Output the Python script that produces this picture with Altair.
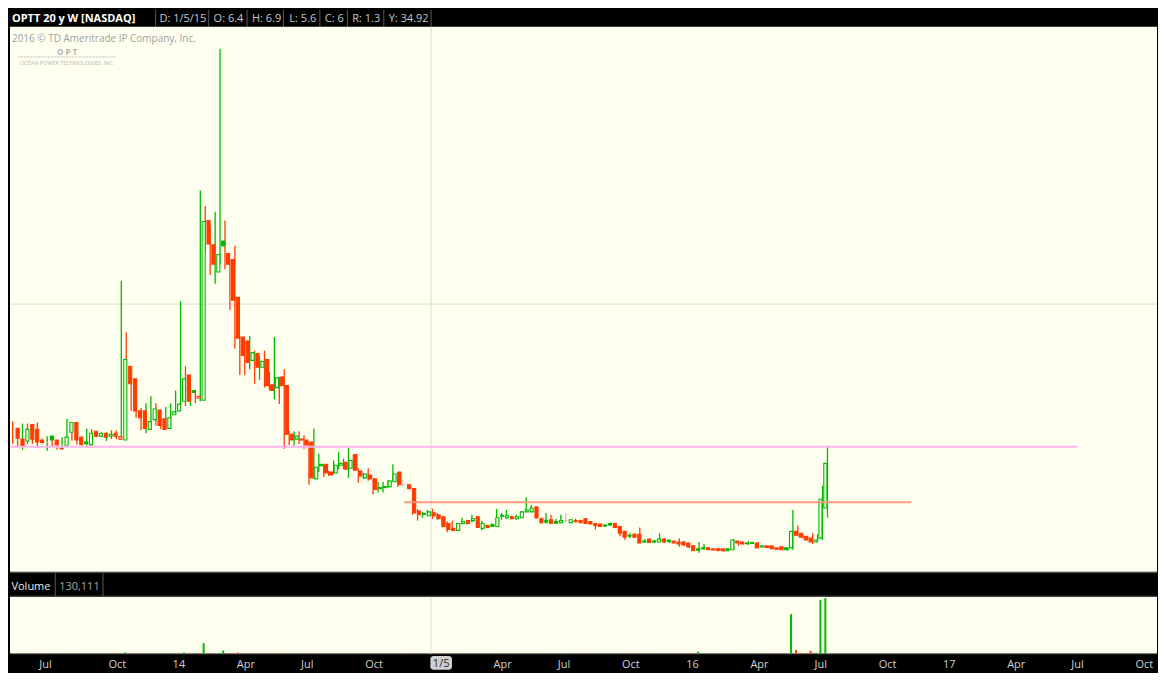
import altair as alt
import pandas as pd

# ---------------- data ----------------
first_week = "2013-05-20"   # weekly candles, Monday of each week

opens = [
    17.25, 15.875, 15.625, 17.75, 17.125, 15.75, 15.44, 16.25, 15.75, 14.69,
    15.0, 16.75, 18.0, 16.125, 15.5, 15.125, 16.875, 16.25, 16.625, 16.25,
    16.625, 15.875, 15.75, 25.25, 23.625, 19.5, 19.5, 17.125, 18.375, 19.625,
    18.5, 17.25, 19.0, 19.5, 20.75, 24.125, 22.125, 21.125, 20.875, 44.0,
    40.875, 37.375, 41.375, 39.75, 39.0, 34.125, 29.0, 28.5, 26.0, 26.875,
    25.125, 26.125, 22.875, 22.5, 23.875, 22.75, 16.5, 15.875, 15.875, 15.75,
    15.5, 10.75, 12.625, 12.625, 11.625, 11.5, 12.5, 12.875, 12.125, 13.875,
    11.75, 10.875, 11.25, 10.75, 9.625, 9.75, 9.75, 10.375, 11.625, 10.0,
    10.0, 9.5, 6.625, 6.31, 6.0, 6.4, 6.125, 5.875, 5.0, 4.375,
    4.125, 5.0, 5.375, 5.375, 5.875, 4.375, 4.75, 4.875, 4.625, 6.06,
    5.75, 5.875, 5.625, 5.75, 6.5, 6.5, 7.125, 5.625, 5.375, 5.5,
    5.25, 5.125, 5.375, 5.125, 5.375, 5.375, 5.625, 5.25, 5.0, 4.94,
    4.81, 5.0, 5.0, 4.625, 4.0, 3.5, 3.625, 3.625, 2.75, 3.0,
    2.75, 2.625, 3.0, 2.875, 2.75, 2.625, 2.625, 2.5, 2.125, 1.75,
    1.875, 1.875, 1.75, 1.75, 1.75, 1.75, 1.625, 2.75, 2.625, 2.5,
    2.54, 2.5, 2.125, 2.125, 2.125, 1.875, 2.0, 1.875, 1.875, 4.0,
    3.75, 3.375, 3.125, 2.625, 3.125, 7.0,
]
highs = [
    18.125, 16.375, 17.875, 17.875, 17.25, 18.0, 16.125, 16.25, 15.875, 15.0,
    16.125, 18.5, 18.0, 16.5, 15.75, 17.25, 17.125, 16.875, 16.75, 16.75,
    17.0, 17.0, 36.25, 29.625, 23.875, 21.625, 19.875, 20.5, 21.375, 20.5,
    18.5, 20.0, 20.5, 22.125, 33.625, 25.25, 23.0, 22.0, 47.875, 45.875,
    43.375, 45.125, 66.125, 44.0, 39.0, 40.75, 29.125, 28.5, 29.125, 27.25,
    26.5, 27.25, 24.5, 29.0, 23.875, 24.875, 16.875, 16.875, 16.875, 16.375,
    15.5, 17.25, 14.0, 12.625, 11.75, 13.125, 14.25, 13.375, 14.75, 13.875,
    12.125, 11.5, 12.125, 10.75, 10.375, 10.375, 10.5, 12.625, 11.625, 10.625,
    10.125, 9.5, 6.875, 6.5, 6.75, 6.9, 6.375, 5.875, 5.25, 5.375,
    5.0, 5.75, 5.5, 6.125, 6.0, 5.375, 4.875, 5.0, 6.875, 6.375,
    6.75, 6.0, 6.125, 6.625, 8.375, 7.375, 7.25, 5.75, 6.375, 6.125,
    5.625, 6.125, 6.375, 5.5, 5.625, 5.5, 5.625, 5.25, 5.0, 5.0,
    4.875, 5.125, 5.0, 4.625, 4.0, 3.75, 3.75, 4.5, 3.0, 3.0,
    2.875, 3.75, 3.125, 2.875, 2.75, 3.125, 2.75, 2.5, 2.25, 2.625,
    2.375, 1.875, 1.75, 1.875, 1.75, 1.75, 3.0, 2.75, 2.625, 2.75,
    2.66, 2.625, 2.125, 2.125, 2.125, 1.875, 2.0, 1.875, 6.75, 4.75,
    3.75, 3.375, 3.75, 3.625, 9.875, 15.0,
]
lows = [
    15.25, 14.875, 14.5, 15.25, 15.25, 14.75, 15.125, 14.375, 14.875, 14.5,
    14.5, 16.0, 15.69, 15.19, 15.0, 15.0, 16.125, 16.125, 16.125, 15.625,
    15.875, 15.875, 15.75, 20.875, 19.5, 18.625, 17.0, 16.625, 17.25, 17.625,
    17.125, 17.25, 17.625, 19.25, 20.375, 20.125, 20.125, 20.5, 20.75, 40.0,
    37.0, 35.875, 38.375, 37.75, 32.5, 27.5, 24.125, 24.125, 24.875, 23.0,
    23.5, 22.5, 22.125, 21.0, 20.375, 14.625, 15.125, 15.0, 15.25, 14.625,
    10.0, 10.75, 11.625, 11.0, 11.125, 11.375, 12.0, 12.0, 10.875, 11.875,
    10.25, 10.75, 10.5, 8.75, 9.0, 9.0, 9.625, 10.375, 9.75, 9.75,
    9.5, 6.125, 5.375, 5.75, 6.0, 5.6, 5.5, 4.5, 3.875, 4.0,
    4.125, 4.875, 4.875, 5.125, 4.5, 4.125, 4.5, 4.625, 4.625, 5.5,
    5.625, 5.625, 5.5, 5.75, 6.5, 6.5, 5.625, 5.0, 5.0, 5.0,
    5.0, 5.125, 5.125, 5.125, 5.125, 5.125, 5.0, 4.875, 4.25, 4.56,
    4.56, 4.69, 4.5, 3.375, 2.875, 3.125, 3.19, 2.5, 2.56, 2.5,
    2.5, 2.625, 2.5, 2.5, 2.44, 2.0, 2.125, 1.875, 1.5, 1.25,
    1.625, 1.625, 1.56, 1.44, 1.375, 1.5, 1.625, 2.125, 2.31, 2.25,
    2.4, 1.875, 1.94, 1.875, 1.75, 1.625, 1.56, 1.54, 1.625, 3.375,
    3.125, 2.875, 2.375, 2.625, 2.875, 5.75,
]
closes = [
    16.0, 15.0, 17.125, 15.875, 15.5, 15.44, 15.44, 15.75, 15.125, 14.625,
    16.125, 18.0, 15.75, 15.19, 15.28, 16.625, 16.25, 16.625, 16.125, 16.5,
    16.25, 16.19, 26.125, 23.0, 19.5, 18.625, 17.25, 18.125, 19.75, 17.625,
    17.125, 18.625, 19.375, 20.375, 23.625, 20.75, 21.875, 21.375, 43.875, 41.0,
    38.375, 39.625, 40.75, 38.375, 33.75, 28.875, 26.625, 25.75, 27.0, 25.125,
    25.875, 22.75, 22.125, 23.75, 22.75, 16.5, 15.75, 16.25, 15.75, 15.125,
    10.875, 12.25, 12.44, 11.5, 11.25, 12.5, 12.75, 12.0, 13.125, 11.875,
    11.125, 11.375, 10.75, 9.375, 9.5, 9.625, 10.5, 11.375, 10.0, 10.0,
    9.5, 6.375, 6.125, 6.19, 6.5, 6.0, 5.625, 4.625, 4.25, 4.125,
    5.0, 5.25, 5.0, 5.625, 4.5, 5.0, 4.5, 4.625, 5.75, 5.94,
    6.0, 5.625, 5.875, 6.5, 6.75, 7.0, 5.75, 5.125, 5.19, 5.0,
    5.06, 5.375, 5.375, 5.5, 5.25, 5.125, 5.0, 4.94, 4.75, 4.625,
    4.69, 4.81, 4.5, 3.75, 3.25, 3.375, 3.25, 2.5, 2.625, 2.56,
    2.625, 3.0, 2.625, 2.69, 2.5, 2.375, 2.25, 2.0, 1.5, 1.56,
    1.75, 1.625, 1.59, 1.55, 1.5, 1.52, 2.875, 2.5, 2.375, 2.4,
    2.44, 1.875, 2.0, 1.94, 1.75, 1.69, 1.625, 1.65, 4.0, 3.5,
    3.25, 2.875, 2.625, 2.875, 8.125, 12.75,
]
volumes_k = [   # weekly volume, thousands of shares
    180, 150, 210, 170, 160, 140, 120, 200, 150, 130,
    170, 260, 220, 160, 120, 190, 140, 110, 130, 120,
    150, 140, 1100, 420, 300, 250, 230, 210, 240, 260,
    220, 180, 190, 240, 1000, 380, 300, 260, 8500, 400,
    350, 500, 2600, 450, 400, 900, 380, 300, 260, 280,
    240, 260, 200, 300, 220, 400, 250, 200, 180, 220,
    450, 300, 220, 200, 170, 190, 210, 160, 240, 230,
    180, 150, 160, 210, 140, 130, 150, 200, 170, 110,
    130, 260, 200, 150, 140, 130.111, 160, 220, 190, 150,
    170, 140, 120, 130, 200, 160, 110, 120, 230, 150,
    140, 120, 130, 170, 260, 210, 240, 150, 130, 120,
    110, 130, 100, 120, 110, 100, 120, 110, 150, 120,
    100, 110, 120, 200, 220, 140, 130, 250, 150, 120,
    110, 160, 130, 110, 120, 170, 140, 150, 280, 1600,
    240, 130, 110, 100, 120, 110, 420, 200, 150, 120,
    110, 180, 130, 120, 150, 130, 140, 120, 32000, 3100,
    600, 500, 2300, 700, 43500, 45000,
]

tick_dates = ["2013-07-01", "2013-10-07", "2014-01-06", "2014-04-07", "2014-07-07",
              "2014-10-06", "2015-01-05", "2015-04-06", "2015-07-06", "2015-10-05",
              "2016-01-04", "2016-04-04", "2016-07-04", "2016-10-03", "2017-01-02",
              "2017-04-03", "2017-07-03", "2017-10-02"]
tick_labels = ["Jul", "Oct", "14", "Apr", "Jul", "Oct", "1/5", "Apr", "Jul", "Oct",
               "16", "Apr", "Jul", "Oct", "17", "Apr", "Jul", "Oct"]
highlight_label = "1/5"

header_title = "OPTT 20 y W [NASDAQ]"
header_fields = ["D: 1/5/15", "O: 6.4", "H: 6.9", "L: 5.6", "C: 6", "R: 1.3", "Y: 34.92"]
volume_header = ["Volume", "130,111"]
watermark = "2016 \u00a9 TD Ameritrade IP Company, Inc."
logo_text = ["O P T", "OCEAN POWER TECHNOLOGIES, INC."]

level_prices = [14.875, 7.75]
level_starts = ["2013-05-16", "2014-11-26"]
level_ends = ["2017-07-07", "2016-11-14"]
level_kind = ["resistance", "support"]
crosshair_date = "2015-01-03"
crosshair_price = 33.25

# ---------------- layout / style ----------------
W, H = 1150, 664
REF_W, REF_H = 1166.0, 682.0
def sx(v): return v * W / REF_W
def sy(v): return v * H / REF_H

FONT = "Open Sans"
CREAM = "#fffff0"
GREEN = "#00b900"
RED = "#ff3c00"
GRAY = "#c8c8c8"
PINK = "#ffb0ee"
SALMON = "#ff9478"
SEP = "#5a5a5a"
CROSS = "#dcdcdc"

X_DOMAIN = [-3.765, 1622.14]          # days since first_week
PRICE_DOMAIN = [-1.125, 68.875]
VOL_DOMAIN = [0, 46000]

base = pd.Timestamp(first_week)
def dnum(s):
    return (pd.Timestamp(s) - base).total_seconds() / 86400.0

dates = pd.date_range(first_week, periods=len(closes), freq="7D")
prev = [opens[0]] + closes[:-1]
status = ["up" if c > p else ("down" if c < p else "flat") for c, p in zip(closes, prev)]
fillkey = ["hollow" if c > o else s for c, o, s in zip(closes, opens, status)]
df = pd.DataFrame({
    "date": dates.strftime("%Y-%m-%d"),
    "day": [(d - base).days for d in dates],
    "open": opens, "high": highs, "low": lows, "close": closes,
    "volume": volumes_k, "status": status, "fillkey": fillkey,
})

xs = alt.Scale(domain=X_DOMAIN, nice=False, zero=False)
ps = alt.Scale(domain=PRICE_DOMAIN, range=[sy(578), sy(18)], nice=False, zero=False)
vs = alt.Scale(domain=VOL_DOMAIN, range=[sy(663), sy(604.5)], nice=False)
status_scale = alt.Scale(domain=["up", "down", "flat"], range=[GREEN, RED, GRAY])
fill_scale = alt.Scale(domain=["up", "down", "flat", "hollow"], range=[GREEN, RED, GRAY, CREAM])

one = pd.DataFrame({"a": [0]})

def band(x0, x1, y0, y1, color):
    return alt.Chart(one).mark_rect(color=color).encode(
        x=alt.value(sx(x0)), x2=alt.value(sx(x1)), y=alt.value(sy(y0)), y2=alt.value(sy(y1)))

def hline(x0, x1, y, color, w=1):
    return alt.Chart(one).mark_rule(color=color, strokeWidth=w).encode(
        x=alt.value(sx(x0)), x2=alt.value(sx(x1)), y=alt.value(sy(y)))

def vline(x, y0, y1, color, w=1):
    return alt.Chart(one).mark_rule(color=color, strokeWidth=w).encode(
        x=alt.value(sx(x)), y=alt.value(sy(y0)), y2=alt.value(sy(y1)))

def label(text, x, y, color, size=11, weight="normal", align="left"):
    return alt.Chart(one).mark_text(
        font=FONT, fontSize=size, fontWeight=weight, color=color, align=align,
        baseline="alphabetic").encode(x=alt.value(sx(x)), y=alt.value(sy(y)), text=alt.value(text))

layers = []
# panels
layers.append(band(0, REF_W, 17.5, 578.5, CREAM))
layers.append(band(0, REF_W, 604.5, 663, CREAM))
layers.append(hline(0, REF_W, 579.5, SEP))
layers.append(hline(0, REF_W, 603.8, SEP))
layers.append(hline(0, REF_W, 663.3, "#3a3a3a"))

# header
header_x = [152, 207, 246, 284, 320, 348, 385]
header_sep = [148, 202, 241, 278, 315, 343, 380, 428]
layers.append(label(header_title, 2, 12, "#ffffff", weight="bold"))
for t, x in zip(header_fields, header_x):
    layers.append(label(t, x, 12, "#c8c8c8"))
for x in header_sep:
    layers.append(vline(x, 0, 17.3, SEP))

# volume header
layers.append(label(volume_header[0], 1.5, 597.5, "#e8e8e8"))
layers.append(label(volume_header[1], 50, 597.5, "#a8a8a8"))
for x in [46, 94.5]:
    layers.append(vline(x, 579.5, 603.8, SEP))

# watermark
layers.append(label(watermark, 2, 33.5, "#a0a0a0", size=10))
layers.append(label(logo_text[0], 58, 46, "#b0b0b0", size=8, weight="bold", align="center"))
layers.append(alt.Chart(one).mark_rule(color="#c0c0c0", strokeWidth=1, strokeDash=[2, 1]).encode(
    x=alt.value(sx(8)), x2=alt.value(sx(108)), y=alt.value(sy(48.5))))
layers.append(label(logo_text[1], 58, 57, "#b8b8b8", size=5.5, align="center"))

# crosshair
cross = pd.DataFrame({"day": [dnum(crosshair_date)], "price": [crosshair_price]})
layers.append(alt.Chart(cross).mark_rule(color=CROSS, strokeWidth=1).encode(
    x=alt.X("day:Q", scale=xs, axis=None), y=alt.value(sy(17.5)), y2=alt.value(sy(578.5))))
layers.append(alt.Chart(cross).mark_rule(color=CROSS, strokeWidth=1).encode(
    x=alt.X("day:Q", scale=xs, axis=None), y=alt.value(sy(604.5)), y2=alt.value(sy(663))))
layers.append(alt.Chart(cross).mark_rule(color=CROSS, strokeWidth=1).encode(
    x=alt.value(0), x2=alt.value(W), y=alt.Y("price:Q", scale=ps, axis=None)))

# candles
xenc = alt.X("day:Q", scale=xs, axis=None)
layers.append(alt.Chart(df).mark_rule(strokeWidth=1.3).encode(
    x=xenc,
    y=alt.Y("low:Q", scale=ps, axis=None), y2="high:Q",
    color=alt.Color("status:N", scale=status_scale, legend=None)))
layers.append(alt.Chart(df).mark_bar(size=3.1, strokeWidth=1.1).encode(
    x=xenc,
    y=alt.Y("open:Q", scale=ps, axis=None), y2="close:Q",
    stroke=alt.Stroke("status:N", scale=status_scale, legend=None),
    fill=alt.Fill("fillkey:N", scale=fill_scale, legend=None)))

# horizontal levels
lv = pd.DataFrame({"price": level_prices,
                   "start": [dnum(s) for s in level_starts],
                   "end": [dnum(s) for s in level_ends],
                   "kind": level_kind})
layers.append(alt.Chart(lv).mark_rule(strokeWidth=2, opacity=0.95).encode(
    x=alt.X("start:Q", scale=xs, axis=None), x2="end:Q",
    y=alt.Y("price:Q", scale=ps, axis=None),
    color=alt.Color("kind:N", scale=alt.Scale(domain=level_kind, range=[PINK, SALMON]), legend=None)))

# volume
layers.append(alt.Chart(df).mark_bar(size=2).encode(
    x=xenc,
    y=alt.Y("volume:Q", scale=vs, axis=None),
    color=alt.Color("status:N", scale=status_scale, legend=None)))

# time axis labels
ticks = pd.DataFrame({"day": [dnum(d) for d in tick_dates], "label": tick_labels})
layers.append(alt.Chart(ticks).transform_filter(
    alt.datum.label != highlight_label).mark_text(
    font=FONT, fontSize=11, color="#d0d0d0", align="left", dx=-3, baseline="alphabetic").encode(
    x=alt.X("day:Q", scale=xs, axis=None), y=alt.value(sy(677.5)), text="label:N"))
layers.append(alt.Chart(ticks).transform_filter(
    alt.datum.label == highlight_label).transform_calculate(
    x0="datum.day - 2.9", x1="datum.day + 27.8").mark_rect(
    color="#cfcfcf", cornerRadius=3).encode(
    x=alt.X("x0:Q", scale=xs, axis=None), x2="x1:Q",
    y=alt.value(sy(665.5)), y2=alt.value(sy(679.5))))
layers.append(alt.Chart(ticks).transform_filter(
    alt.datum.label == highlight_label).mark_text(
    font=FONT, fontSize=11, color="#2a2a2a", align="center", dx=sx(8.9), baseline="alphabetic").encode(
    x=alt.X("day:Q", scale=xs, axis=None), y=alt.value(sy(677)), text="label:N"))

chart = alt.layer(*layers).resolve_scale(
    x="independent", y="independent", color="independent",
    fill="independent", stroke="independent"
).properties(width=W, height=H, padding=0).configure(
    background="#000000"
).configure_view(stroke=None)

chart.save("out.html", embed_options={"renderer": "svg", "actions": False})
